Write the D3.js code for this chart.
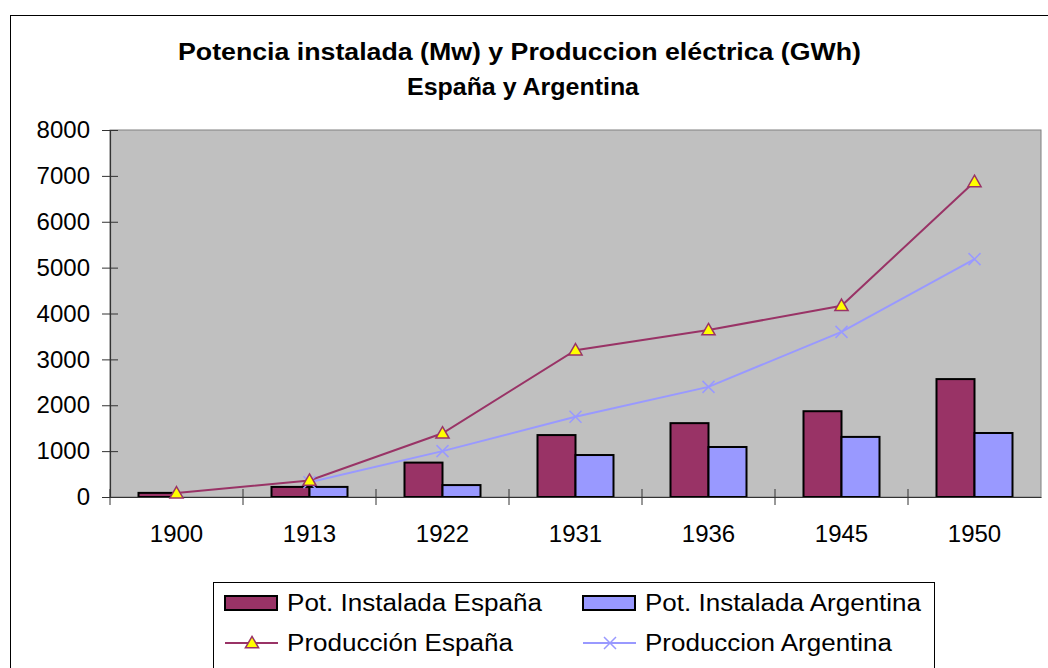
<!DOCTYPE html>
<html>
<head>
<meta charset="utf-8">
<script src="https://cdn.jsdelivr.net/npm/d3@7"></script>
<style>
  body { margin: 0; background: #fff; }
  text { font-family: "Liberation Sans", Arial, sans-serif; }
</style>
</head>
<body>
<div id="root"></div>
<script>
const years = ["1900", "1913", "1922", "1931", "1936", "1945", "1950"];
const potEspana = [90, 220, 750, 1350, 1610, 1870, 2570];
const potArgentina = [null, 220, 260, 915, 1090, 1310, 1395];
const prodEspana = [85, 360, 1390, 3200, 3640, 4170, 6870];
const prodArgentina = [null, 320, 1000, 1750, 2400, 3600, 5185];
const yTicks = [0, 1000, 2000, 3000, 4000, 5000, 6000, 7000, 8000];

const width = 1048, height = 668;
const plot = { left: 110, right: 1041, top: 130, bottom: 497 };

const colEsp = "#993366", colArg = "#9999FF";

const svg = d3.select("#root").append("svg")
    .attr("width", width)
    .attr("height", height);

// outer chart border
svg.append("rect")
    .attr("x", 10.5).attr("y", 15.5)
    .attr("width", 1100).attr("height", 700)
    .attr("fill", "#fff").attr("stroke", "#000").attr("stroke-width", 1);

// title
svg.append("text")
    .attr("x", 519.5).attr("y", 60).attr("text-anchor", "middle")
    .attr("textLength", 683).attr("lengthAdjust", "spacingAndGlyphs")
    .style("font-weight", "bold").style("font-size", "23px")
    .text("Potencia instalada (Mw) y Produccion eléctrica (GWh)");
svg.append("text")
    .attr("x", 523).attr("y", 95).attr("text-anchor", "middle")
    .attr("textLength", 232).attr("lengthAdjust", "spacingAndGlyphs")
    .style("font-weight", "bold").style("font-size", "23px")
    .text("España y Argentina");

const x = d3.scaleBand()
    .domain(years)
    .range([plot.left, plot.right])
    .padding(0);

const y = d3.scaleLinear()
    .domain([0, 8000])
    .range([plot.bottom, plot.top]);

// plot area
svg.append("rect")
    .attr("x", plot.left).attr("y", plot.top)
    .attr("width", plot.right - plot.left).attr("height", plot.bottom - plot.top)
    .attr("fill", "#C0C0C0").attr("stroke", "#808080").attr("stroke-width", 1);

// bars
const bw = x.bandwidth() / 3.5;
const bars = svg.append("g");
bars.selectAll(".esp")
    .data(years.map((yr, i) => ({ yr, v: potEspana[i] })).filter(d => d.v != null))
    .enter().append("rect")
    .attr("x", d => x(d.yr) + 0.75 * bw)
    .attr("y", d => y(d.v))
    .attr("width", bw)
    .attr("height", d => y(0) - y(d.v))
    .attr("fill", colEsp).attr("stroke", "#000").attr("stroke-width", 2);
bars.selectAll(".arg")
    .data(years.map((yr, i) => ({ yr, v: potArgentina[i] })).filter(d => d.v != null))
    .enter().append("rect")
    .attr("x", d => x(d.yr) + 1.75 * bw)
    .attr("y", d => y(d.v))
    .attr("width", bw)
    .attr("height", d => y(0) - y(d.v))
    .attr("fill", colArg).attr("stroke", "#000").attr("stroke-width", 2);

// axes
const yAxis = svg.append("g")
    .attr("transform", `translate(${plot.left},0)`)
    .call(d3.axisLeft(y).tickValues(yTicks).tickFormat(d3.format("d"))
        .tickSize(8).tickPadding(12).tickSizeOuter(0));
yAxis.selectAll(".tick line").attr("x2", 8).attr("x1", -8);
const xAxis = svg.append("g")
    .attr("transform", `translate(0,${plot.bottom})`)
    .call(d3.axisBottom(x).tickSize(0).tickPadding(28).tickSizeOuter(0));
xAxis.selectAll(".tick line").remove();
// category boundary tick marks
xAxis.selectAll(".cat")
    .data(years)
    .enter().append("line")
    .attr("x1", d => x(d)).attr("x2", d => x(d))
    .attr("y1", -8).attr("y2", 8)
    .attr("stroke", "#333");
[yAxis, xAxis].forEach(a => {
    a.select(".domain").attr("stroke", "#333").attr("stroke-width", 1.2);
    a.selectAll("text").style("font-size", "24px").attr("fill", "#000")
        .style("font-family", "'Liberation Sans', Arial, sans-serif");
});
yAxis.selectAll(".tick line").attr("stroke", "#333");

// lines
const line = d3.line()
    .defined(d => d.v != null)
    .x(d => x(d.yr) + x.bandwidth() / 2)
    .y(d => y(d.v));

const espPts = years.map((yr, i) => ({ yr, v: prodEspana[i] }));
const argPts = years.map((yr, i) => ({ yr, v: prodArgentina[i] }));

svg.append("path").datum(argPts).attr("d", line)
    .attr("fill", "none").attr("stroke", colArg).attr("stroke-width", 2);
svg.append("path").datum(espPts).attr("d", line)
    .attr("fill", "none").attr("stroke", colEsp).attr("stroke-width", 2);

const tri = d3.symbol().type(d3.symbolTriangle).size(75);
const cross = "M-6,-6L6,6M-6,6L6,-6";

svg.selectAll(".mx")
    .data(argPts.filter(d => d.v != null))
    .enter().append("path")
    .attr("transform", d => `translate(${x(d.yr) + x.bandwidth() / 2},${y(d.v)})`)
    .attr("d", cross).attr("stroke", colArg).attr("stroke-width", 1.5).attr("fill", "none");

svg.selectAll(".mt")
    .data(espPts.filter(d => d.v != null))
    .enter().append("path")
    .attr("transform", d => `translate(${x(d.yr) + x.bandwidth() / 2},${y(d.v) + 1})`)
    .attr("d", tri).attr("fill", "#FFFF00").attr("stroke", colEsp).attr("stroke-width", 1.5);

// legend
const lg = svg.append("g");
lg.append("rect")
    .attr("x", 213.5).attr("y", 582.5).attr("width", 721).attr("height", 120)
    .attr("fill", "#fff").attr("stroke", "#000");
const legendItems = [
    { label: "Pot. Instalada España", kind: "bar", color: colEsp, lx: 225, ly: 603, w: 255 },
    { label: "Pot. Instalada Argentina", kind: "bar", color: colArg, lx: 583, ly: 603, w: 276 },
    { label: "Producción España", kind: "tri", color: colEsp, lx: 225, ly: 643, w: 226 },
    { label: "Produccion Argentina", kind: "x", color: colArg, lx: 583, ly: 643, w: 247 }
];
legendItems.forEach(d => {
    const g = lg.append("g");
    if (d.kind === "bar") {
        g.append("rect").attr("x", d.lx).attr("y", d.ly - 7).attr("width", 52).attr("height", 14)
            .attr("fill", d.color).attr("stroke", "#000").attr("stroke-width", 2);
    } else {
        g.append("line").attr("x1", d.lx).attr("x2", d.lx + 53).attr("y1", d.ly).attr("y2", d.ly)
            .attr("stroke", d.color).attr("stroke-width", 2);
        if (d.kind === "tri") {
            g.append("path").attr("transform", `translate(${d.lx + 27},${d.ly + 1})`)
                .attr("d", tri).attr("fill", "#FFFF00").attr("stroke", colEsp).attr("stroke-width", 1.5);
        } else {
            g.append("path").attr("transform", `translate(${d.lx + 27},${d.ly})`)
                .attr("d", cross).attr("stroke", colArg).attr("stroke-width", 1.5);
        }
    }
    g.append("text").attr("x", d.lx + 62).attr("y", d.ly).attr("dy", "0.35em")
        .attr("textLength", d.w).attr("lengthAdjust", "spacingAndGlyphs")
        .style("font-size", "23px").text(d.label);
});
</script>
</body>
</html>
